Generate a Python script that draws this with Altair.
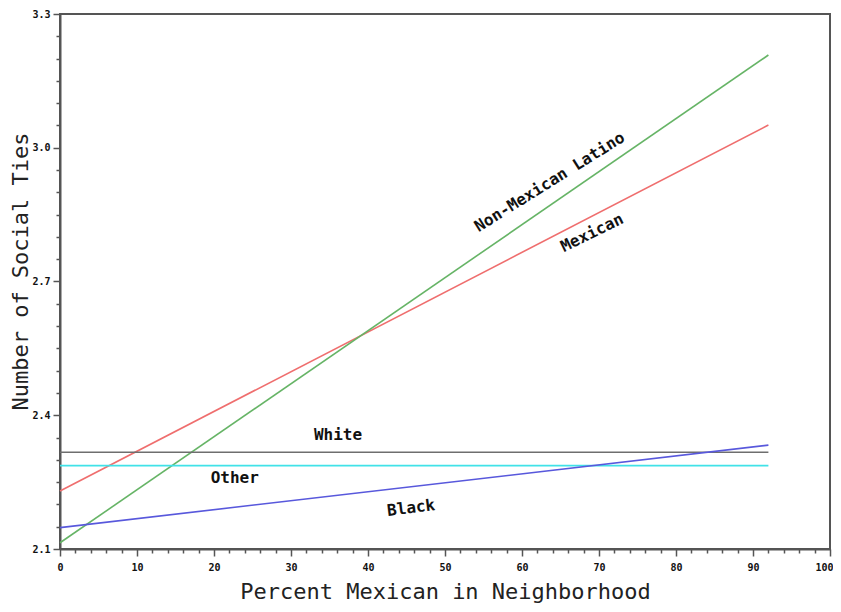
import altair as alt
import pandas as pd

# Regression lines (predicted values at 0% and 92% Mexican)
groups = ["Mexican", "Non-Mexican Latino", "White", "Other", "Black"]
x_start = [0, 0, 0, 0, 0]
x_end = [92, 92, 92, 92, 92]
y_start = [2.230, 2.114, 2.317, 2.287, 2.148]
y_end = [3.051, 3.208, 2.317, 2.287, 2.333]
colors = ["#ef6e6e", "#66b466", "#6e6e6e", "#40e2e8", "#5858dc"]

# Inline line labels
label_text = ["Mexican", "Non-Mexican Latino", "White", "Other", "Black"]
label_x = [69.1, 63.6, 36.1, 22.7, 45.6]
label_y = [2.809, 2.923, 2.356, 2.259, 2.192]
label_angle = [334, 328, 0, 0, 353]

# Axis ticks
x_ticks = list(range(0, 101, 2))
y_ticks = [round(2.1 + 0.05 * i, 2) for i in range(25)]

rows = []
for g, xs0, xe0, ys0, ye0 in zip(groups, x_start, x_end, y_start, y_end):
    rows.append({"group": g, "x": xs0, "y": ys0})
    rows.append({"group": g, "x": xe0, "y": ye0})
lines_df = pd.DataFrame(rows)

labels_df = pd.DataFrame({"text": label_text, "x": label_x, "y": label_y, "angle": label_angle})

FONT = "DejaVu Sans Mono"

x_axis = alt.Axis(
    values=x_ticks,
    tickCount=200,
    grid=False,
    format="d",
    labelExpr="datum.value % 10 === 0 ? datum.label : ''",
    tickSize={"condition": {"test": "datum.value % 10 === 0", "value": 7}, "value": 4},
    labelOffset={"condition": {"test": "datum.value === 100", "value": -6}, "value": 0},
    labelPadding=6,
    labelFont=FONT, labelFontSize=10, labelFontWeight="bold", labelColor="#111",
    title="Percent Mexican in Neighborhood",
    titleFont=FONT, titleFontSize=22, titleFontWeight="normal", titleColor="#222",
    titlePadding=9,
    domainColor="#555", domainWidth=2, tickColor="#555", tickWidth=1.5,
    labelFlush=False, labelOverlap=False,
)

major_y = "abs((datum.value - 2.1) / 0.3 - round((datum.value - 2.1) / 0.3)) < 0.001"
y_axis = alt.Axis(
    values=y_ticks,
    tickCount=200,
    grid=False,
    format=".1f",
    labelExpr=f"{major_y} ? datum.label : ''",
    tickSize={"condition": {"test": major_y, "value": 7}, "value": 4},
    labelPadding=3,
    labelFont=FONT, labelFontSize=10, labelFontWeight="bold", labelColor="#111",
    title="Number of Social Ties",
    titleFont=FONT, titleFontSize=22, titleFontWeight="normal", titleColor="#222",
    titleAngle=270,
    titleBaseline="alphabetic",
    titleAlign="center",
    titleX=-33,
    titleY=257,
    domainColor="#555", domainWidth=2, tickColor="#555", tickWidth=1.5,
    labelFlush=False, labelOverlap=False,
)

xsc = alt.Scale(domain=[0, 100], nice=False, zero=False)
ysc = alt.Scale(domain=[2.1, 3.3], nice=False, zero=False)

lines = alt.Chart(lines_df).mark_line(strokeWidth=1.6).encode(
    x=alt.X("x:Q", scale=xsc, axis=x_axis),
    y=alt.Y("y:Q", scale=ysc, axis=y_axis),
    color=alt.Color("group:N", scale=alt.Scale(domain=groups, range=colors), legend=None),
    detail="group:N",
)

labels = alt.Chart(labels_df).mark_text(
    font=FONT, fontSize=16, fontWeight="bold", color="#111", align="center", baseline="middle"
).encode(
    x=alt.X("x:Q", scale=xsc, axis=x_axis),
    y=alt.Y("y:Q", scale=ysc, axis=y_axis),
    text="text:N",
    angle=alt.Angle("angle:Q", scale=None),
)

chart = alt.layer(lines, labels).properties(
    width=770,
    height=535,
    autosize=alt.AutoSizeParams(type="none"),
    padding={"left": 52, "top": 6, "right": 3, "bottom": 55},
    background="white",
).configure_view(stroke="#555", strokeWidth=2)

chart.save("out.html", embed_options={"renderer": "svg", "actions": False})
